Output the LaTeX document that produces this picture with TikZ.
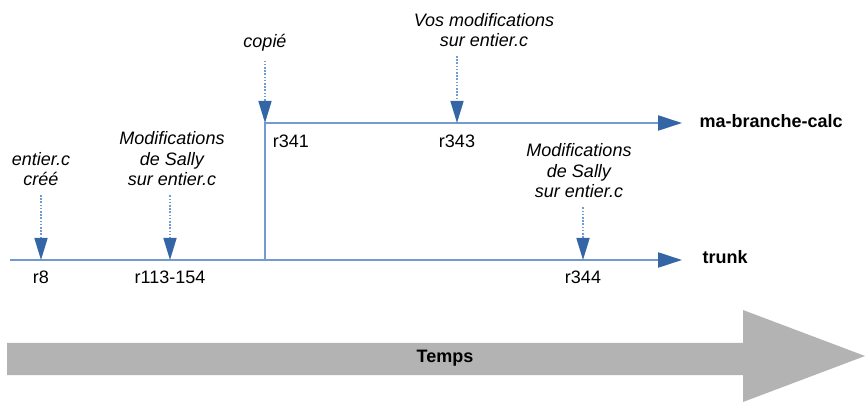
\documentclass[tikz,border=0pt]{standalone}
\usepackage{fontspec}
\setmainfont{Liberation Sans}
\usetikzlibrary{arrows.meta}

\definecolor{lignebleu}{RGB}{114,155,208}
\definecolor{pointebleu}{RGB}{52,101,164}
\definecolor{grisfleche}{RGB}{179,179,179}

\tikzset{
  ligne/.style={line width=2.2pt, lignebleu, -{Triangle[length=24pt,width=15pt,color=pointebleu]}},
  pointille/.style={lignebleu, dash pattern=on 1.6pt off 1.6pt, line width=1.6pt,
    -{Triangle[length=22pt,width=13pt,color=pointebleu]}, shorten <=7pt},
  note/.style={font=\fontsize{18}{20.5}\selectfont\itshape, align=center, inner sep=2pt},
  rev/.style={font=\fontsize{18}{20}\selectfont},
  nom/.style={font=\fontsize{18}{20}\selectfont\bfseries, anchor=west},
}

\begin{document}
\begin{tikzpicture}[x=1pt,y=-1pt]

    \useasboundingbox (0,0) rectangle (865,403);

    % points sur les lignes
    \coordinate (tronc-debut) at (10,260);
    \coordinate (tronc-fin) at (682,260);
    \coordinate (branchement) at (265,260);
    \coordinate (p341) at (265,123);
    \coordinate (branche-fin) at (682,123);
    \coordinate (p8) at (41,260);
    \coordinate (p113) at (170,260);
    \coordinate (p343) at (457,123);
    \coordinate (p344) at (583,260);

    % trunk et branche
    \draw [ligne] (tronc-debut) -- (tronc-fin);
    \draw [ligne] (branchement) -- (p341) -- (branche-fin);
    \node [nom] (trunk) at (699,257) {trunk};
    \node [nom] (branche) at (696,121) {ma-branche-calc};

    % commentaires
    \node [note] (n8) at (41,169) {entier.c\\créé};
    \node [note] (n113) at (172,159) {Modifications\\de Sally\\sur entier.c};
    \node [note] (ncopie) at (265,43) {copié};
    \node [note] (n343) at (484,30) {Vos modifications\\sur entier.c};
    \node [note] (n344) at (579,171) {Modifications\\de Sally\\sur entier.c};

    \draw [pointille] (n8.south) -- (p8);
    \draw [pointille] (n113.south -| p113) -- (p113);
    \draw [pointille] (ncopie.south) -- (p341);
    \draw [pointille] (n343.south -| p343) -- (p343);
    \draw [pointille] (n344.south -| p344) -- (p344);

    % revisions
    \node [rev] (r8) at (41,277) {r8};
    \node [rev] (r113) at (170,277) {r113-154};
    \node [rev] (r341) at (291,141) {r341};
    \node [rev] (r343) at (457,141) {r343};
    \node [rev] (r344) at (583,277) {r344};

    % temps
    \fill [grisfleche] (7,343) -- (743,343) -- (743,310) -- (865,356)
        -- (743,402) -- (743,375) -- (7,375) -- cycle;
    \node [font=\fontsize{18}{20}\selectfont\bfseries] (temps) at (445,358) {Temps};

\end{tikzpicture}
\end{document}
